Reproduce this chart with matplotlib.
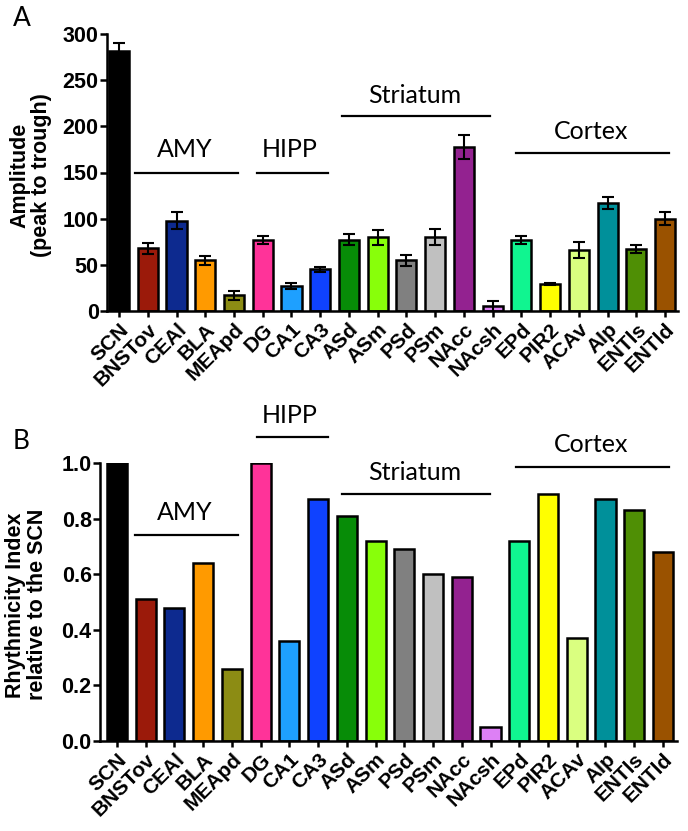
import matplotlib
matplotlib.use("Agg")
import matplotlib.pyplot as plt
import numpy as np

regions = ["SCN", "BNSTov", "CEAl", "BLA", "MEApd", "DG", "CA1", "CA3", "ASd", "ASm",
           "PSd", "PSm", "NAcc", "NAcsh", "EPd", "PIR2", "ACAv", "AIp", "ENTls", "ENTld"]
amplitude = [282, 68, 98, 55, 17, 77, 27, 45, 77, 80, 55, 80, 178, 5, 77, 29, 66, 117, 67, 100]
amplitude_err = [8, 6, 9, 5, 5, 4, 3, 3, 6, 8, 6, 9, 13, 6, 4, 1, 9, 7, 4, 7]
rhythmicity = [1.0, 0.51, 0.48, 0.64, 0.26, 1.0, 0.36, 0.87, 0.81, 0.72,
               0.69, 0.60, 0.59, 0.05, 0.72, 0.89, 0.37, 0.87, 0.83, 0.68]
colors = ["#000000", "#9B1A0A", "#0D2A8F", "#FF9A00", "#8C8C14", "#FF3399", "#1EA0FF",
          "#0F42FF", "#078C07", "#88FF0A", "#808080", "#C0C0C0", "#932290", "#DD80F5",
          "#10F590", "#FFFF00", "#DAFF80", "#00909A", "#4F8F05", "#9A5200"]

groups = ["AMY", "HIPP", "Striatum", "Cortex"]
groupA_span = [(0.56, 4.14), (4.80, 7.27), (7.76, 12.91), (13.81, 19.14)]
groupA_y = [150, 150, 211, 171]
groupA_text = [(2.3, 167), (5.95, 167), (10.3, 225), (16.42, 186)]
groupB_span = [(0.63, 4.21), (4.87, 7.34), (7.83, 12.98), (13.88, 19.2)]
groupB_y = [0.741, 1.094, 0.888, 0.986]
groupB_text = [(2.37, 0.795), (6.0, 1.144), (10.37, 0.939), (16.49, 1.04)]

W, H = 688, 831
fig = plt.figure(figsize=(W / 100, H / 100), dpi=100)

def ax_rect(l, r, t, b):
    return [l / W, 1 - b / H, (r - l) / W, (b - t) / H]

axA = fig.add_axes(ax_rect(107, 678, 34, 311))
axB = fig.add_axes(ax_rect(100, 677, 463, 741))

x = np.arange(len(regions))
bold = dict(fontfamily="Liberation Sans", fontweight="bold", fontsize=15)
lab_font = dict(fontfamily="Liberation Sans", fontweight="bold", fontsize=15.5)
grp_font = dict(fontfamily="Lato", fontsize=18)

def style(ax):
    for s in ["top", "right"]:
        ax.spines[s].set_visible(False)
    for s in ["left", "bottom"]:
        ax.spines[s].set_linewidth(1.8)
    ax.tick_params(axis="y", direction="out", length=5, width=1.8, pad=1)
    ax.tick_params(axis="x", direction="out", length=4.5, width=1.8, pad=2)
    ax.set_xticks(x)
    ax.set_xticklabels(regions, rotation=45, ha="right", rotation_mode="anchor", **bold)
    for lab in ax.get_yticklabels():
        lab.set_fontfamily("Liberation Sans")
        lab.set_fontweight("bold")
        lab.set_fontsize(15.5)

# Panel A
axA.bar(x, amplitude, width=0.7, color=colors, edgecolor="black", linewidth=1.8, zorder=2)
axA.errorbar(x, amplitude, yerr=amplitude_err, fmt="none", ecolor="black",
             elinewidth=1.5, capsize=4, capthick=1.5, zorder=3)
axA.set_xlim(-0.42, 19.45)
axA.set_ylim(0, 300)
axA.set_yticks(np.arange(0, 301, 50))
style(axA)
axA.set_ylabel("Amplitude\n(peak to trough)", linespacing=1.05, **lab_font)
axA.yaxis.set_label_coords(-0.096, 0.49)
for g, (a, b), yy, (tx, ty) in zip(groups, groupA_span, groupA_y, groupA_text):
    axA.plot([a, b], [yy, yy], color="black", lw=1.6, clip_on=False, zorder=4)
    axA.text(tx, ty, g, ha="center", va="baseline", **grp_font)

# Panel B
axB.bar(x, rhythmicity, width=0.7, color=colors, edgecolor="black", linewidth=1.8, zorder=2)
axB.set_xlim(-0.59, 19.49)
axB.set_ylim(0, 1.0)
axB.set_yticks(np.arange(0, 1.01, 0.2))
axB.set_yticklabels([f"{v:.1f}" for v in np.arange(0, 1.01, 0.2)])
style(axB)
axB.set_ylabel("Rhythmicity Index\nrelative to the SCN", linespacing=1.05, **lab_font)
axB.yaxis.set_label_coords(-0.09, 0.49)
for g, (a, b), yy, (tx, ty) in zip(groups, groupB_span, groupB_y, groupB_text):
    axB.plot([a, b], [yy, yy], color="black", lw=1.6, clip_on=False, zorder=4)
    axB.text(tx, ty, g, ha="center", va="baseline", clip_on=False, **grp_font)

fig.text(13 / W, 1 - 26 / H, "A", fontfamily="Lato", fontsize=19, va="baseline", ha="left")
fig.text(13 / W, 1 - 449 / H, "B", fontfamily="Lato", fontsize=19, va="baseline", ha="left")

fig.savefig("out.png", dpi=100)
